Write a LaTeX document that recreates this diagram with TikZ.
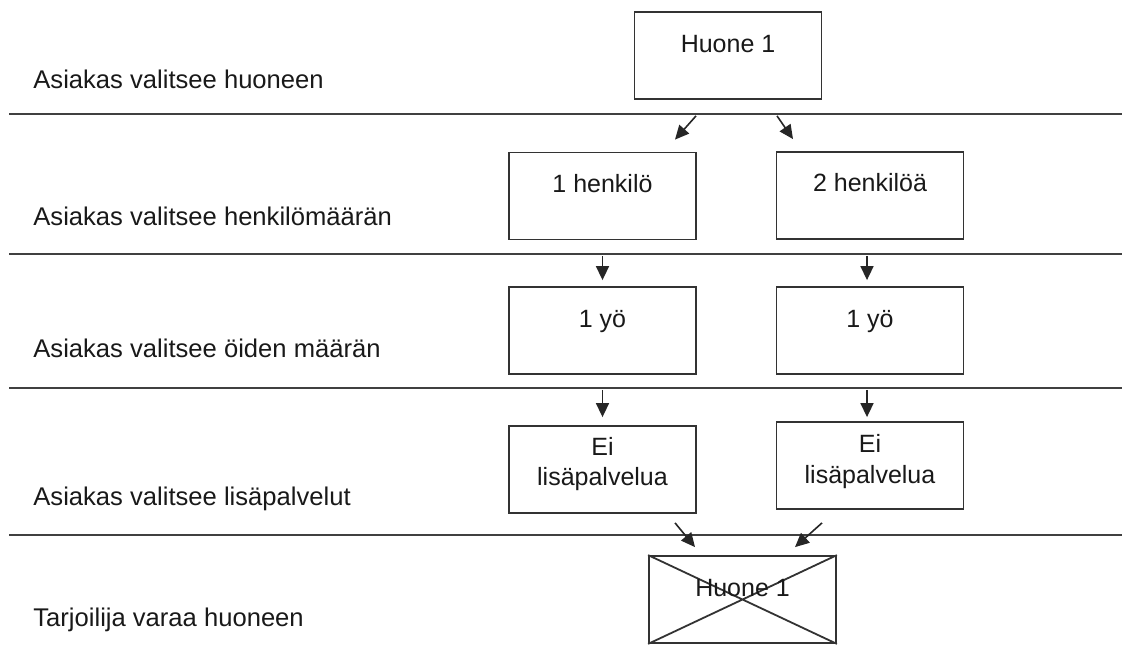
\documentclass[tikz,border=0pt]{standalone}
\usepackage{fontspec}
\setmainfont{Liberation Sans}
\usetikzlibrary{calc,arrows.meta}
\begin{document}
\begin{tikzpicture}[x=0.5pt,y=-0.5pt,
  every node/.style={font=\fontsize{12.5}{15}\selectfont, text=black!90, inner sep=0pt},
  box/.style={draw=black!80, line width=0.9pt, minimum width=93.5pt, minimum height=43.5pt, fill=white},
  sep/.style={draw=black!75, line width=1.1pt},
  arr/.style={draw=black!85, line width=0.8pt, -{Triangle[length=7pt,width=6.5pt]}},
  lab/.style={anchor=base west, font=\fontsize{12.8}{15}\selectfont},
  btxt/.style={anchor=base}]
\useasboundingbox (0,0) rectangle (1122,657);
% separators
\coordinate (s1a) at (9,114); \coordinate (s1b) at (1122,114);
\coordinate (s2a) at (9,254); \coordinate (s2b) at (1122,254);
\coordinate (s3a) at (9,388); \coordinate (s3b) at (1122,388);
\coordinate (s4a) at (9,535); \coordinate (s4b) at (1122,535);
\draw[sep] (s1a) -- (s1b);
\draw[sep] (s2a) -- (s2b);
\draw[sep] (s3a) -- (s3b);
\draw[sep] (s4a) -- (s4b);
% lane labels
\node[lab] (l1) at (33,89) {Asiakas valitsee huoneen};
\node[lab] (l2) at (33,226) {Asiakas valitsee henkilömäärän};
\node[lab] (l3) at (33,357) {Asiakas valitsee öiden määrän};
\node[lab] (l4) at (33,505) {Asiakas valitsee lisäpalvelut};
\node[lab] (l5) at (33,626) {Tarjoilija varaa huoneen};
% boxes
\node[box] (h1) at (728,55.5) {};
\node[box] (p1) at (602.5,196) {};
\node[box] (p2) at (870,195.5) {};
\node[box] (n1) at (602.5,330.5) {};
\node[box] (n2) at (870,330.5) {};
\node[box] (e1) at (602.5,469.5) {};
\node[box] (e2) at (870,465.5) {};
\node[box] (f) at (742.5,599.5) {};
\draw[draw=black!80, line width=0.9pt] (f.north west) -- (f.south east) (f.north east) -- (f.south west);
% box texts
\node[btxt] (th1) at ($(h1.north)+(0,41)$) {Huone 1};
\node[btxt] (tp1) at ($(p1.north)+(0,41)$) {1 henkilö};
\node[btxt] (tp2) at ($(p2.north)+(0,40)$) {2 henkilöä};
\node[btxt] (tn1) at ($(n1.north)+(0,41)$) {1 yö};
\node[btxt] (tn2) at ($(n2.north)+(0,41)$) {1 yö};
\node[btxt] (te1a) at ($(e1.north)+(0,30)$) {Ei};
\node[btxt] (te1b) at ($(e1.north)+(0,60)$) {lisäpalvelua};
\node[btxt] (te2a) at ($(e2.north)+(0,31)$) {Ei};
\node[btxt] (te2b) at ($(e2.north)+(0,62)$) {lisäpalvelua};
\node[btxt] (tf) at ($(f.north)+(0,41)$) {Huone 1};
% connectors
\draw[arr] ($(h1.south)+(-32,16)$) -- ($(p1.north)+(72.5,-12)$);
\draw[arr] ($(h1.south)+(49,16)$) -- ($(p2.north)+(-77,-12)$);
\draw[arr] ($(p1.south)+(0,16)$) -- ($(n1.north)+(0,-6)$);
\draw[arr] ($(p2.south)+(-3,16)$) -- ($(n2.north)+(-3,-6)$);
\draw[arr] ($(n1.south)+(0,15)$) -- ($(e1.north)+(0,-8)$);
\draw[arr] ($(n2.south)+(-3,15)$) -- ($(e2.north)+(-3,-4)$);
\draw[arr] ($(e1.south)+(72.5,9)$) -- ($(f.north)+(-47.5,-8)$);
\draw[arr] ($(e2.south)+(-48,13)$) -- ($(f.north)+(52.5,-8)$);
\end{tikzpicture}
\end{document}
